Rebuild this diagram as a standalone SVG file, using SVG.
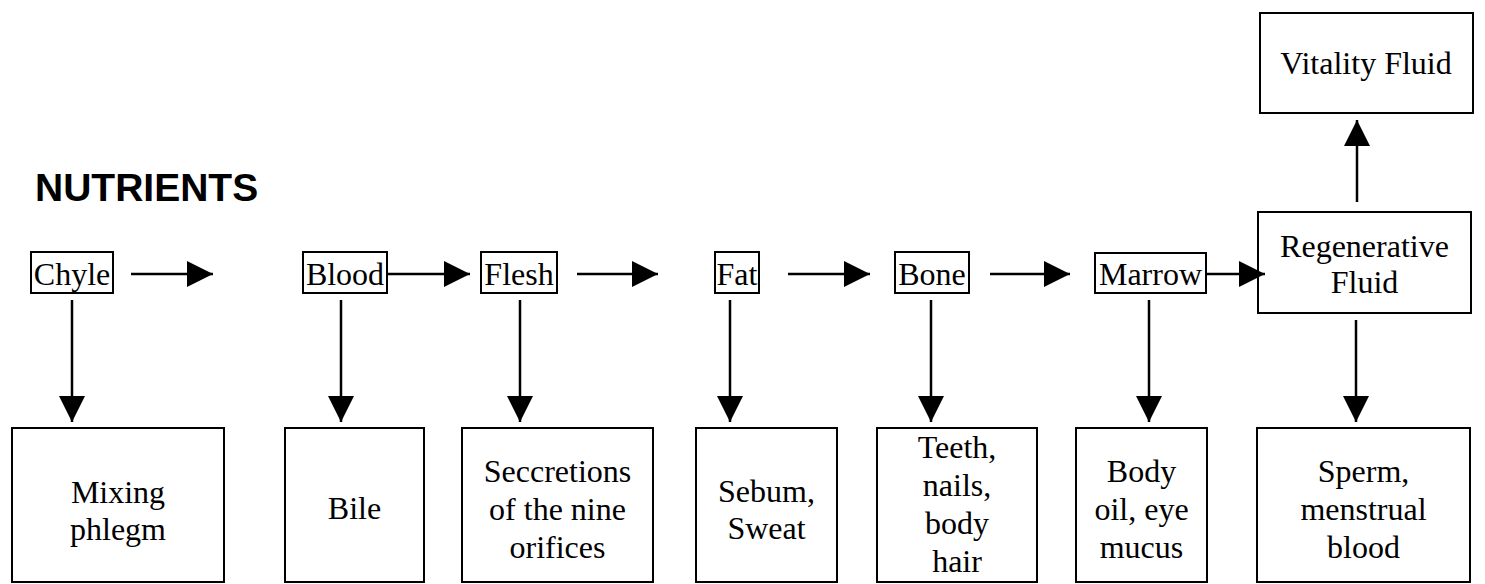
<svg xmlns="http://www.w3.org/2000/svg" width="1485" height="584" viewBox="0 0 1485 584">
  <style>
    .box { fill: #fff; stroke: #000; stroke-width: 2; }
    .t { font-family: "Liberation Serif", "Times New Roman", serif; font-size: 32px; fill: #000; text-anchor: middle; }
    .title { font-family: "Liberation Sans", Arial, sans-serif; font-size: 39px; font-weight: bold; fill: #000; }
    .conn { stroke: #000; stroke-width: 2.5; fill: none; }
  </style>
  <defs>
    <marker id="ah" markerUnits="userSpaceOnUse" markerWidth="28" markerHeight="28" refX="26" refY="13" orient="auto">
      <path d="M0,0 L26,13 L0,26 z" fill="#000"/>
    </marker>
  </defs>
  <rect width="1485" height="584" fill="#fff"/>

  <text class="title" x="35" y="201">NUTRIENTS</text>

  <g id="chyle"><rect class="box" x="31" y="252" width="82" height="41"/><text class="t" x="72" y="285">Chyle</text></g>
  <g id="blood"><rect class="box" x="303" y="252" width="84" height="41"/><text class="t" x="345" y="285">Blood</text></g>
  <g id="flesh"><rect class="box" x="481" y="252" width="76" height="41"/><text class="t" x="519" y="285">Flesh</text></g>
  <g id="fat"><rect class="box" x="715" y="252" width="44" height="41"/><text class="t" x="737" y="285">Fat</text></g>
  <g id="bone"><rect class="box" x="895" y="252" width="74" height="41"/><text class="t" x="932" y="285">Bone</text></g>
  <g id="marrow"><rect class="box" x="1095" y="253" width="111" height="40"/><text class="t" x="1150.5" y="285">Marrow</text></g>
  <g id="regenerative"><rect class="box" x="1258" y="212" width="213" height="101"/><text class="t" x="1364.5" y="257">Regenerative</text><text class="t" x="1364.5" y="293">Fluid</text></g>
  <g id="vitality"><rect class="box" x="1260" y="13" width="213" height="100"/><text class="t" x="1366" y="74">Vitality Fluid</text></g>

  <g id="mixing-phlegm"><rect class="box" x="12" y="428" width="212" height="154"/><text class="t" x="118" y="503">Mixing</text><text class="t" x="118" y="540">phlegm</text></g>
  <g id="bile"><rect class="box" x="285" y="428" width="139" height="154"/><text class="t" x="354.5" y="519">Bile</text></g>
  <g id="secretions"><rect class="box" x="462" y="428" width="191" height="154"/><text class="t" x="557.5" y="482">Seccretions</text><text class="t" x="557.5" y="520">of the nine</text><text class="t" x="557.5" y="558">orifices</text></g>
  <g id="sebum"><rect class="box" x="696" y="428" width="141" height="154"/><text class="t" x="766.5" y="502">Sebum,</text><text class="t" x="766.5" y="539">Sweat</text></g>
  <g id="teeth"><rect class="box" x="877" y="428" width="160" height="154"/><text class="t" x="957" y="458">Teeth,</text><text class="t" x="957" y="496">nails,</text><text class="t" x="957" y="534">body</text><text class="t" x="957" y="572">hair</text></g>
  <g id="body-oil"><rect class="box" x="1076" y="428" width="131" height="154"/><text class="t" x="1141.5" y="482">Body</text><text class="t" x="1141.5" y="520">oil, eye</text><text class="t" x="1141.5" y="558">mucus</text></g>
  <g id="sperm"><rect class="box" x="1257" y="428" width="213" height="154"/><text class="t" x="1363.5" y="482">Sperm,</text><text class="t" x="1363.5" y="520">menstrual</text><text class="t" x="1363.5" y="558">blood</text></g>

  <g id="connectors">
    <line class="conn" x1="131" y1="274" x2="213" y2="274" marker-end="url(#ah)"/>
    <line class="conn" x1="387" y1="274" x2="470" y2="274" marker-end="url(#ah)"/>
    <line class="conn" x1="577" y1="274" x2="658" y2="274" marker-end="url(#ah)"/>
    <line class="conn" x1="788" y1="274" x2="870" y2="274" marker-end="url(#ah)"/>
    <line class="conn" x1="990" y1="274" x2="1070" y2="274" marker-end="url(#ah)"/>
    <line class="conn" x1="1206" y1="274" x2="1265" y2="274" marker-end="url(#ah)"/>
    <line class="conn" x1="1357" y1="202" x2="1357" y2="120" marker-end="url(#ah)"/>
    <line class="conn" x1="72" y1="300" x2="72" y2="422" marker-end="url(#ah)"/>
    <line class="conn" x1="341" y1="300" x2="341" y2="422" marker-end="url(#ah)"/>
    <line class="conn" x1="520" y1="300" x2="520" y2="422" marker-end="url(#ah)"/>
    <line class="conn" x1="730" y1="300" x2="730" y2="422" marker-end="url(#ah)"/>
    <line class="conn" x1="931" y1="300" x2="931" y2="422" marker-end="url(#ah)"/>
    <line class="conn" x1="1149" y1="300" x2="1149" y2="422" marker-end="url(#ah)"/>
    <line class="conn" x1="1356" y1="320" x2="1356" y2="422" marker-end="url(#ah)"/>
  </g>
</svg>
